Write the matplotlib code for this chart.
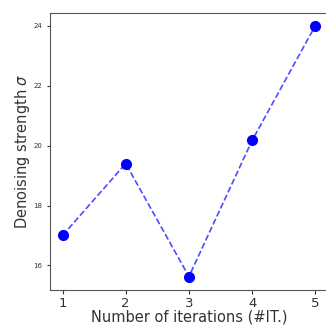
import matplotlib
matplotlib.use("Agg")
import matplotlib.pyplot as plt

iterations = [1, 2, 3, 4, 5]
sigma = [17.0, 19.4, 15.63, 20.17, 24.0]

fig = plt.figure(figsize=(3.26, 3.27), dpi=100)
ax = fig.add_axes([0.153, 0.113, 0.853, 0.847])
ax.plot(iterations, sigma, linestyle='--', color='blue', alpha=0.7, linewidth=1.2)
ax.plot(iterations, sigma, linestyle='none', marker='o', color='blue', markersize=7)
ax.set_xlim(0.8, 5.2)
ax.set_ylim(15.18, 24.42)
ax.set_xticks(iterations)
ax.set_yticks([16, 18, 20, 22, 24])
ax.tick_params(axis='x', labelsize=9.5, colors='#333333', length=3, pad=2)
ax.tick_params(axis='y', labelsize=5, colors='#333333', length=2)
for s in ax.spines.values():
    s.set_color('#555555')
ax.set_xlabel('Number of iterations (#IT.)', fontsize=10.5, color='#333333', labelpad=0)
ax.set_ylabel(r'Denoising strength $\sigma$', fontsize=10.5, color='#333333', labelpad=1)
fig.savefig('out.png', dpi=100)
